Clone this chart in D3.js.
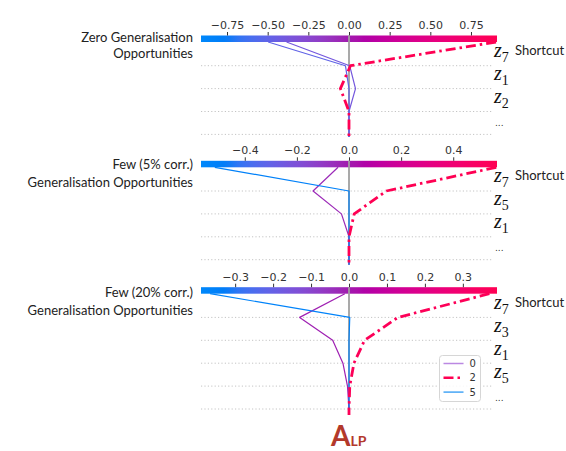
<!DOCTYPE html>
<html>
<head>
<meta charset="utf-8">
<script src="https://cdn.jsdelivr.net/npm/d3@7"></script>
<style>
  body { margin: 0; background: #fff; }
</style>
</head>
<body>
<div id="chart"></div>
<script>
const panelTitles = [
    ["Zero Generalisation", "Opportunities"],
    ["Few (5% corr.)", "Generalisation Opportunities"],
    ["Few (20% corr.)", "Generalisation Opportunities"]
];
const featureSubs = [["7", "1", "2"], ["7", "5", "1"], ["7", "3", "1", "5"]];
const xMax = [0.91, 0.568, 0.39];
const tickValues = [
    [-0.75, -0.5, -0.25, 0, 0.25, 0.5, 0.75],
    [-0.4, -0.2, 0, 0.2, 0.4],
    [-0.3, -0.2, -0.1, 0, 0.1, 0.2, 0.3]
];
const tickFormats = [".2f", ".1f", ".1f"];
const classes = ["0", "2", "5"];
// output at the top, then cumulative value at each feature row down to the base value
const class0Values = [
    [-0.384, 0.004, 0.04, 0, 0],
    [-0.042, -0.138, -0.029, 0, 0],
    [-0.011, -0.13, -0.043, -0.016, -0.004, 0]
];
const class2Values = [
    [0.904, 0.009, -0.053, 0, 0],
    [0.565, 0.143, 0.02, 0, 0],
    [0.37, 0.129, 0.041, 0.013, 0.002, 0]
];
const class5Values = [
    [-0.497, -0.022, 0, 0, 0],
    [-0.515, 0, 0, 0, 0],
    [-0.366, 0.002, 0, 0, 0, 0]
];
const legendColors = ["#bb88e2", "#ff0052", "#46a6f6"];

const W = 566, H = 451;
const X0 = 201, X1 = 497;
const CB_H = 6.5, ROW_H = 22.9;
const cbTops = [35.5, 160.8, 287.2];
const titleY = [[42, 58], [169, 187], [297, 315]];
const bottomExt = [2.5, 5, 6];
const SANS = "Lato, 'Open Sans', sans-serif";
const DJ = "'DejaVu Sans', sans-serif";

const svg = d3.select("#chart").append("svg")
    .attr("width", W).attr("height", H);

// shap red_blue colour map (lch interpolation)
function shapRedBlue(t) {
    const l = t < 0.5 ? 54 - 28 * t : 40 + 28 * (t - 0.5);
    const c = 70 + 20 * t;
    const h = 266.93 + (380.32 - 266.93) * t;
    return d3.hcl(h % 360, c, l).formatHex();
}

const defs = svg.append("defs");
const grad = defs.append("linearGradient").attr("id", "cmap")
    .attr("x1", "0%").attr("x2", "100%").attr("y1", "0%").attr("y2", "0%");
d3.range(0, 41).forEach(i => {
    grad.append("stop").attr("offset", (i / 40 * 100) + "%").attr("stop-color", shapRedBlue(i / 40));
});

const allValues = [class0Values, class2Values, class5Values];
const drawOrder = [0, 2, 1];

panelTitles.forEach((title, p) => {
    const g = svg.append("g");
    const cbTop = cbTops[p];
    const cbBottom = cbTop + CB_H;
    const nRows = featureSubs[p].length + 1;
    const x = d3.scaleLinear().domain([-xMax[p], xMax[p]]).range([X0, X1]);
    const gridY = d3.range(nRows).map(i => cbBottom + 23.7 + i * ROW_H);
    const bottomY = gridY[nRows - 1] + bottomExt[p];

    // title
    g.append("g").selectAll("text").data(title).join("text")
        .attr("x", 193).attr("y", (d, i) => titleY[p][i])
        .attr("text-anchor", "end")
        .style("font", `13px ${SANS}`).attr("fill", "#222")
        .text(d => d);

    // grid lines
    g.selectAll("line.grid").data(gridY).join("line")
        .attr("class", "grid")
        .attr("x1", X0).attr("x2", 492)
        .attr("y1", d => d).attr("y2", d => d)
        .attr("stroke", "#c4c4c4").attr("stroke-width", 1)
        .attr("stroke-dasharray", "1.2,2.2");

    // colour bar
    g.append("rect")
        .attr("x", X0).attr("y", cbTop).attr("width", X1 - X0).attr("height", CB_H)
        .attr("fill", "url(#cmap)");

    // top axis
    const axis = g.append("g")
        .attr("transform", `translate(0,${cbTop})`)
        .call(d3.axisTop(x).tickValues(tickValues[p]).tickFormat(d3.format(tickFormats[p]))
            .tickSize(3.5).tickPadding(3));
    axis.select(".domain").remove();
    axis.selectAll(".tick line").attr("stroke", "#333");
    axis.selectAll(".tick text").style("font", `11px ${DJ}`).attr("fill", "#333");

    // base value line
    g.append("line")
        .attr("x1", x(0)).attr("x2", x(0))
        .attr("y1", cbTop).attr("y2", bottomY)
        .attr("stroke", "#a0a0a0").attr("stroke-width", 1.8);

    // decision lines
    const line = d3.line().x(d => x(d[0])).y(d => d[1]);
    drawOrder.forEach(k => {
        const vals = allValues[k][p];
        const pts = vals.map((v, i) => [v, i === 0 ? cbBottom : gridY[i - 1]]);
        pts.push([vals[vals.length - 1], bottomY]);
        const col = shapRedBlue((vals[0] + xMax[p]) / (2 * xMax[p]));
        g.append("path")
            .datum(pts)
            .attr("d", line)
            .attr("fill", "none")
            .attr("stroke", col)
            .attr("stroke-width", k === 1 ? 2.8 : 1.2)
            .attr("stroke-dasharray", k === 1 ? "10,4,2.5,4" : null)
            .attr("stroke-linejoin", "round");
    });

    // feature labels
    featureSubs[p].forEach((s, i) => {
        const yTop = i === 0 ? cbBottom : gridY[i - 1];
        const yc = (yTop + gridY[i]) / 2;
        const t = g.append("text").attr("x", 494).attr("y", yc + 3)
            .style("font-family", "'Liberation Serif', serif").attr("fill", "#111");
        t.append("tspan").text("z").style("font-size", "20px").style("font-style", "italic");
        t.append("tspan").text(s).style("font-size", "14px").attr("dy", 5);
        if (i === 0) {
            g.append("text").attr("x", 515).attr("y", yc + 1)
                .style("font", `13px ${SANS}`).attr("fill", "#222").text("Shortcut");
        }
    });
    const yTopDots = gridY[nRows - 2];
    g.append("text").attr("x", 495).attr("y", (yTopDots + gridY[nRows - 1]) / 2 + 3)
        .style("font", `9px ${DJ}`).attr("fill", "#333").text("...");
});

// legend (bottom panel)
const lg = svg.append("g").attr("transform", "translate(439.5,355.5)");
lg.append("rect").attr("width", 41).attr("height", 46).attr("rx", 3)
    .attr("fill", "#fff").attr("fill-opacity", 0.85).attr("stroke", "#d6d6d6");
classes.forEach((c, i) => {
    const y = 8 + i * 14.3;
    lg.append("line").attr("x1", 4).attr("x2", 24).attr("y1", y).attr("y2", y)
        .attr("stroke", legendColors[i])
        .attr("stroke-width", i === 1 ? 2.6 : 1.5)
        .attr("stroke-dasharray", i === 1 ? "10,4,2.5,4" : null);
    lg.append("text").attr("x", 30).attr("y", y + 3.5)
        .style("font", `10px ${DJ}`).attr("fill", "#333").text(c);
});

// bottom label
const alp = svg.append("text").attr("x", 331).attr("y", 446)
    .style("font-family", SANS).style("font-weight", "bold").attr("fill", "#b3392b");
alp.append("tspan").text("A").style("font-size", "28px");
alp.append("tspan").text("LP").style("font-size", "14px");
</script>
</body>
</html>
